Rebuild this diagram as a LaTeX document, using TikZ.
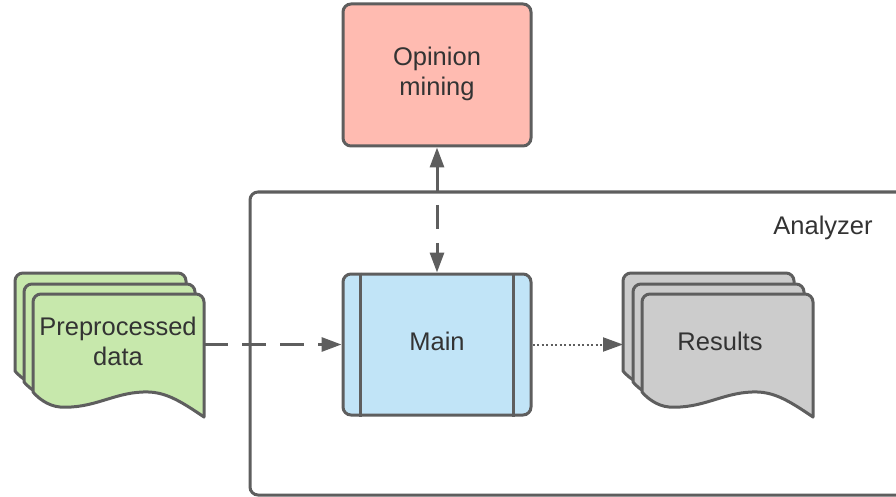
\documentclass[tikz,border=0pt]{standalone}
\usepackage{fontspec}
\setmainfont{Liberation Sans}
\usetikzlibrary{arrows.meta}

\definecolor{edge}{HTML}{5E5E5E}
\definecolor{ink}{HTML}{333333}
\definecolor{leaf}{HTML}{C7E8AC}
\definecolor{sky}{HTML}{C1E4F7}
\definecolor{salmon}{HTML}{FFBBB1}
\definecolor{ash}{HTML}{CCCCCC}

% One sheet of a document stack: fill colour, top-left x, top-left y
\newcommand{\docsheet}[3]{%
  \begin{scope}[shift={(#2,#3)}]
    \filldraw[fill=#1, sheet]
      (0,98) -- (0,8) .. controls (0,3.6) and (3.6,0) .. (8,0)
      -- (163,0) .. controls (167.4,0) and (171,3.6) .. (171,8)
      -- (171,123) .. controls (146,106) and (131,97) .. (110,98)
      .. controls (80,99) and (60,115) .. (27,113)
      .. controls (15,112) and (5,104) .. (0,98) -- cycle;
  \end{scope}}

\begin{document}
\begin{tikzpicture}[
    x=1pt, y=-1pt,
    sheet/.style={draw=edge, line width=3pt, line join=round},
    box/.style={draw=edge, line width=3pt, rounded corners=8pt, inner sep=0pt},
    caption/.style={text=ink, align=center, font=\fontsize{25.5}{30}\selectfont},
    tip/.style={-{Triangle[length=20pt,width=14pt]}},
    flow/.style={draw=edge, line width=3pt, dash pattern=on 24pt off 14pt},
    dotflow/.style={draw=edge, line width=2pt, dash pattern=on 2pt off 2.5pt}
  ]
  \useasboundingbox (0,0) rectangle (896,497);
  \fill[white] (0,0) rectangle (896,497);
  \clip (0,0) rectangle (896,497);

  % container
  \node[box, minimum width=670pt, minimum height=303pt] (analyzer) at (585,343.5) {};
  \node[caption] (analyzerlabel) at (823,228) {Analyzer};

  % opinion mining module
  \node[box, fill=salmon, minimum width=188pt, minimum height=142pt] (opinion) at (437,75) {};
  \node[caption] (opiniontext) at (437,73.5) {Opinion\\mining};

  % main process
  \node[box, fill=sky, minimum width=188pt, minimum height=141pt] (main) at (437,344.5) {};
  \draw[sheet] ([xshift=19pt]main.north west) -- ([xshift=19pt]main.south west);
  \draw[sheet] ([xshift=-19pt]main.north east) -- ([xshift=-19pt]main.south east);
  \node[caption] (maintext) at (437,341) {Main};

  % input document stack
  \docsheet{leaf}{15}{273}
  \docsheet{leaf}{24}{284}
  \docsheet{leaf}{33}{294}
  \node[caption] (pretext) at (118,341) {Preprocessed\\data};
  \coordinate (preeast) at (204,344.5);

  % output document stack
  \docsheet{ash}{623}{273}
  \docsheet{ash}{633}{284}
  \docsheet{ash}{642}{294}
  \node[caption] (restext) at (720,341) {Results};
  \coordinate (reswest) at (623,344.5);

  % connectors
  \draw[flow, tip] (preeast) -- (main.west);
  \draw[flow, {Triangle[length=20pt,width=14pt]}-{Triangle[length=20pt,width=14pt]}]
    (opinion.south) -- (main.north);
  \draw[dotflow, tip] (main.east) -- (reswest);
\end{tikzpicture}
\end{document}
